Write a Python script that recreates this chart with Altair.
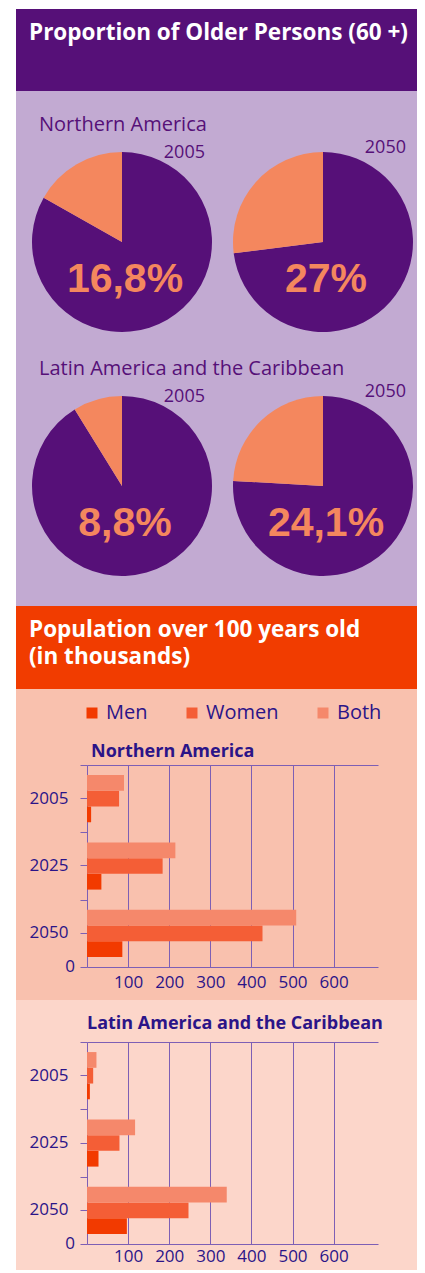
import math
import altair as alt
import pandas as pd

# ---------------- data ----------------
pie_regions = ["Northern America", "Northern America",
               "Latin America and the Caribbean", "Latin America and the Caribbean"]
pie_years = ["2005", "2050", "2005", "2050"]
pie_shares = [16.8, 27.0, 8.8, 24.1]
pie_labels = ["16,8%", "27%", "8,8%", "24,1%"]

bar_years = ["2005", "2025", "2050"]
bar_series = ["Men", "Women", "Both"]
na_men = [10, 35, 86]
na_women = [78, 184, 427]
na_both = [90, 215, 509]
la_men = [7, 28, 97]
la_women = [15, 79, 247]
la_both = [23, 117, 340]
x_ticks = [100, 200, 300, 400, 500, 600]

title_top = "Proportion of Older Persons (60 +)"
title_mid_1 = "Population over 100 years old"
title_mid_2 = "(in thousands)"
title_na = "Northern America"
title_la = "Latin America and the Caribbean"

# ---------------- style ----------------
FONT = "Open Sans"
PURPLE = "#561078"
LPURPLE = "#C2AAD2"
PIE_OR = "#F4875E"
HDR_OR = "#F13C00"
SALMON = "#F9C1AE"
LSALMON = "#FCD6CA"
NAVY = "#2B1488"
AX = "#7D5FB5"
C_MEN = "#F23A00"
C_WOMEN = "#F45E36"
C_BOTH = "#F5886B"
W = 401


def heading(text, x, y):
    return alt.Chart(pd.DataFrame({"t": [text]})).mark_text(
        font=FONT, fontWeight="bold", fontSize=22.5, color="white",
        align="left", baseline="alphabetic"
    ).encode(x=alt.value(x), y=alt.value(y), text="t:N")


# ---------------- header ----------------
hdr = heading(title_top, 13, 31).properties(
    width=W, height=82, view=alt.ViewBackground(fill=PURPLE, stroke=None))

# ---------------- pies ----------------
pie_rows = []
for reg, yr, sh, lab in zip(pie_regions, pie_years, pie_shares, pie_labels):
    pie_rows.append({"region": reg, "year": yr, "part": "rest", "start": 0.0, "end": 100 - sh, "label": lab})
    pie_rows.append({"region": reg, "year": yr, "part": "older", "start": 100 - sh, "end": 100.0, "label": lab})
pie_df = pd.DataFrame(pie_rows)

px = alt.X("year:N", scale=alt.Scale(type="point", domain=["2005", "2050"], range=[106, 307], padding=0), axis=None)
py = alt.Y("region:N", scale=alt.Scale(type="point", domain=[pie_regions[0], pie_regions[2]], range=[151, 395], padding=0), axis=None)

arcs = alt.Chart(pie_df).mark_arc(radius=90, strokeWidth=0).encode(
    x=px, y=py,
    theta=alt.Theta("start:Q", stack=False, scale=alt.Scale(domain=[0, 100], range=[0, 2 * math.pi])),
    theta2="end:Q",
    color=alt.Color("part:N", scale=alt.Scale(domain=["older", "rest"], range=[PIE_OR, PURPLE]), legend=None),
)
older = alt.Chart(pie_df).transform_filter("datum.part == 'older'")
pct = older.mark_text(font="Liberation Sans", fontWeight="bold", fontSize=41, color=PIE_OR,
                      align="center", baseline="alphabetic", dx=3, dy=50).encode(x=px, y=py, text="label:N")
yr05 = older.transform_filter("datum.year == '2005'").mark_text(
    font=FONT, fontSize=18, color=PURPLE, align="right", baseline="alphabetic", dx=83, dy=-84
).encode(x=px, y=py, text="year:N")
yr50 = older.transform_filter("datum.year == '2050'").mark_text(
    font=FONT, fontSize=18, color=PURPLE, align="right", baseline="alphabetic", dx=83, dy=-89
).encode(x=px, y=py, text="year:N")
regt = older.transform_filter("datum.year == '2005'").mark_text(
    font=FONT, fontSize=20, color=PURPLE, align="left", baseline="alphabetic", dy=-111
).encode(x=alt.value(23), y=py, text="region:N")

pies = alt.layer(arcs, pct, yr05, yr50, regt).properties(
    width=W, height=515, view=alt.ViewBackground(fill=LPURPLE, stroke=None))

# ---------------- mid header ----------------
mid = alt.layer(heading(title_mid_1, 13, 31), heading(title_mid_2, 13, 58)).properties(
    width=W, height=83, view=alt.ViewBackground(fill=HDR_OR, stroke=None))

# ---------------- bar panels ----------------
def bar_df(men, women, both):
    rows = []
    for i, yr in enumerate(bar_years):
        for s, vals in zip(bar_series, [men, women, both]):
            rows.append({"year": yr, "series": s, "value": vals[i]})
    return pd.DataFrame(rows)

X0, X1, XMAX = 71, 362, 708


def bar_panel(df, H, top, bottom, title, title_x, title_y, fill, legend, lpad):
    xscale = alt.Scale(domain=[0, XMAX], range=[X0, X1], nice=False, zero=False)
    yscale = alt.Scale(domain=bar_years, range=[top, bottom], paddingInner=0, paddingOuter=0)
    lab = dict(labelFont=FONT, labelFontSize=17, labelColor=NAVY)
    bars = alt.Chart(df).mark_bar(strokeWidth=0).encode(
        x=alt.X("value:Q", stack=False, scale=xscale, axis=alt.Axis(
            orient="bottom", offset=-(H - bottom), values=x_ticks, grid=False,
            ticks=False, tickSize=0, labelPadding=lpad,
            labelBaseline="middle", domainColor=AX, domainWidth=1, title=None, **lab)),
        y=alt.Y("year:N", scale=yscale, axis=alt.Axis(
            orient="left", offset=-X0, domainColor=AX, domainWidth=1, tickColor=AX, tickSize=7,
            tickWidth=1, labelPadding=12, grid=False, title=None, **lab)),
        yOffset=alt.YOffset("series:N", scale=alt.Scale(domain=["Both", "Women", "Men"],
                                                         paddingInner=0, paddingOuter=0.64)),
        color=alt.Color("series:N", scale=alt.Scale(domain=bar_series, range=[C_MEN, C_WOMEN, C_BOTH]),
                        legend=legend),
    )
    frame = alt.Chart(df).mark_bar(opacity=0).encode(
        x=alt.X("value:Q", stack=False, scale=xscale, axis=alt.Axis(
            orient="top", offset=-top, values=x_ticks, labels=False, ticks=False, grid=True,
            gridColor=AX, gridWidth=1, gridOpacity=1,
            domainColor=AX, domainWidth=1, title=None)),
        y=alt.Y("year:N", scale=yscale, axis=alt.Axis(
            orient="left", offset=-X0, tickBand="extent", labels=False, domain=False,
            grid=False, tickColor=AX, tickSize=7, tickWidth=1, title=None)),
    )
    zero = alt.Chart(pd.DataFrame({"v": [0]})).mark_text(
        font=FONT, fontSize=17, color=NAVY, align="right", baseline="middle", dx=-12
    ).encode(x=alt.X("v:Q", scale=xscale, axis=None), y=alt.value(bottom), text="v:Q")
    ttl = alt.Chart(pd.DataFrame({"t": [title]})).mark_text(
        font=FONT, fontWeight="bold", fontSize=18, color=NAVY, align="left", baseline="alphabetic"
    ).encode(x=alt.value(title_x), y=alt.value(title_y), text="t:N")
    return alt.layer(bars, frame, zero, ttl).resolve_axis(x="independent", y="independent").properties(
        width=W, height=H, view=alt.ViewBackground(fill=fill, stroke=None))


leg = alt.Legend(orient="none", legendX=66, legendY=14, direction="horizontal", title=None,
                 symbolType="square", symbolSize=121, symbolStrokeWidth=0, symbolOpacity=1,
                 labelFont=FONT, labelFontSize=20, labelColor=NAVY, labelOffset=4,
                 columnPadding=34, padding=0)

panel_na = bar_panel(bar_df(na_men, na_women, na_both), 311, 76, 278, title_na, 75, 68, SALMON, leg, 15)
panel_la = bar_panel(bar_df(la_men, la_women, la_both), 270, 42, 244, title_la, 71, 29, LSALMON, None, 12)

chart = alt.vconcat(hdr, pies, mid, panel_na, panel_la, spacing=0).resolve_scale(
    color="independent"
).properties(
    padding={"left": 8, "top": 1, "right": 0, "bottom": 0}, background="white"
).configure_view(stroke=None).configure(font=FONT)

chart.save("out.html", embed_options={"renderer": "svg", "actions": False})
